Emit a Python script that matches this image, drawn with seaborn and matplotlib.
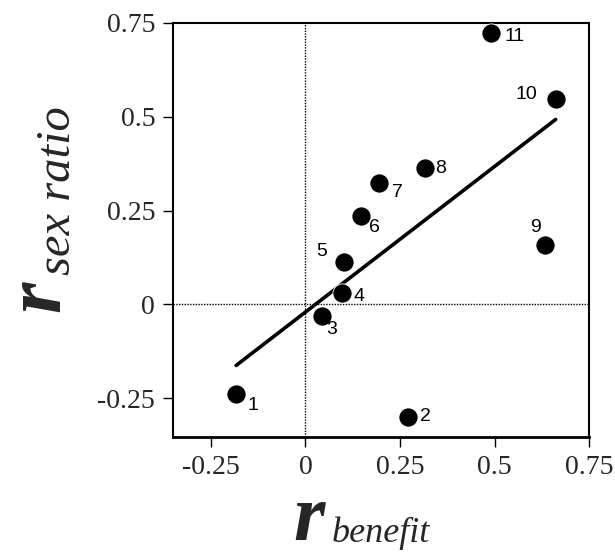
import numpy as np
import matplotlib
matplotlib.use("Agg")
import matplotlib.pyplot as plt
import seaborn as sns

# data
case_ids = ['1', '2', '3', '4', '5', '6', '7', '8', '9', '10', '11']
r_benefit = [-0.183, 0.270, 0.043, 0.097, 0.102, 0.146, 0.194, 0.315, 0.634, 0.661, 0.491]
r_sex_ratio = [-0.239, -0.299, -0.030, 0.031, 0.113, 0.236, 0.323, 0.363, 0.158, 0.546, 0.722]
tick_values = [-0.25, 0, 0.25, 0.5, 0.75]
tick_labels = ['-0.25', '0', '0.25', '0.5', '0.75']

# label placement (pixels from point centre) and alignment
label_pos = {
    '1': (11, -11, 'left'), '2': (12, 0, 'left'), '3': (5, -14, 'left'),
    '4': (11, -4, 'left'), '5': (-17, 10, 'right'), '6': (8, -12, 'left'),
    '7': (13, -9, 'left'), '8': (10, 0, 'left'), '9': (-10, 18, 'center'),
    '10': (-18, 5, 'right'), '11': (13, -3, 'left'),
}

sns.set_style("ticks")
serif = ['Liberation Serif', 'DejaVu Serif']
sans = ['Liberation Sans', 'DejaVu Sans']

W, H = 615, 556
fig = plt.figure(figsize=(W / 100, H / 100), dpi=100)
ax = fig.add_axes([173.3 / W, 1 - 437 / H, (589.3 - 173.3) / W, (437 - 22.7) / H])

# zero reference lines
ax.axhline(0, color='black', lw=1, ls=(0, (1, 1)), zorder=1)
ax.axvline(0, color='black', lw=1, ls=(0, (1, 1)), zorder=1)

# least-squares line over the data range
sns.regplot(x=r_benefit, y=r_sex_ratio, ax=ax, ci=None, scatter=False,
            truncate=True, line_kws=dict(color='black', lw=2.6, zorder=2))
sns.scatterplot(x=r_benefit, y=r_sex_ratio, ax=ax, color='black', s=190,
                edgecolor='white', linewidth=0.6, zorder=3, legend=False)

for cid, xv, yv in zip(case_ids, r_benefit, r_sex_ratio):
    dx, dy, ha = label_pos[cid]
    ax.annotate(cid, (xv, yv), xytext=(dx, dy), textcoords='offset pixels',
                ha=ha, va='center', fontsize=14, family=sans, color='black')

ax.set_xlim(-0.349, 0.75)
ax.set_ylim(-0.353, 0.75)
ax.set_xticks(tick_values)
ax.set_xticklabels(tick_labels, family=serif, fontsize=20)
ax.set_yticks(tick_values)
ax.set_yticklabels(tick_labels, family=serif, fontsize=20)
ax.tick_params(axis='both', direction='out', length=7, width=1, color='black', pad=6)
ax.set_xlabel('')
ax.set_ylabel('')

for side in ['top', 'right', 'left']:
    ax.spines[side].set_linewidth(1.5)
    ax.spines[side].set_color('black')
ax.spines['bottom'].set_linewidth(2)
ax.spines['bottom'].set_color('black')

# axis titles: big r with italic subscript
fig.text(293 / W, 1 - 540 / H, 'r', family=serif, style='italic', weight='bold',
         fontsize=58, ha='left', va='baseline')
fig.text(332 / W, 1 - 542 / H, 'benefit', family=serif, style='italic',
         fontsize=26, ha='left', va='baseline')
fig.text(59 / W, 1 - 312 / H, 'r', family=serif, style='italic', weight='bold',
         fontsize=58, ha='left', va='baseline', rotation=90, rotation_mode='anchor')
fig.text(70 / W, 1 - 275 / H, 'sex ratio', family=serif, style='italic',
         fontsize=35, ha='left', va='baseline', rotation=90, rotation_mode='anchor')

fig.savefig('out.png', dpi=100)
